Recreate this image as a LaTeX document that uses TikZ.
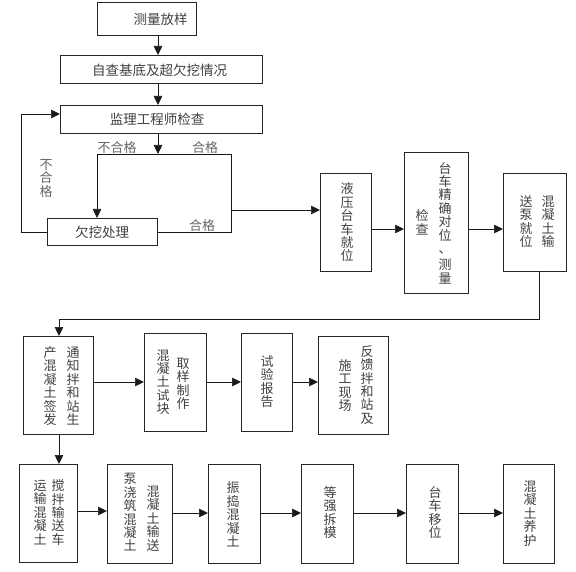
\documentclass[tikz,border=0pt]{standalone}
\usepackage{fontspec}
\setmainfont{Noto Sans CJK SC}
\usetikzlibrary{arrows.meta}
\tikzset{
 box/.style={draw=black!85, line width=0.7pt, inner sep=0pt, outer sep=0pt},
 txt/.style={text=black!75, font=\fontsize{13}{13.4}\selectfont, inner sep=0pt, align=center},
 htxt/.style={text=black!75, font=\fontsize{13.5}{14}\selectfont, inner sep=0pt, align=center},
 lbl/.style={text=black!60, font=\fontsize{13}{13.4}\selectfont, inner sep=0pt, align=center},
 arr/.style={draw=black!90, line width=0.7pt, -{Triangle[length=9pt,width=8.5pt]}},
 ln/.style={draw=black!90, line width=0.7pt},
}
\begin{document}
\begin{tikzpicture}[x=1pt,y=-1pt]
\useasboundingbox (0,0) rectangle (576,572);
% boxes
\node[box, minimum width=99pt, minimum height=33pt] (A) at (146.5,18.5) {};
\node[box, minimum width=202pt, minimum height=28pt] (B) at (161,69) {};
\node[box, minimum width=202pt, minimum height=28pt] (C) at (161,119) {};
\node[box, minimum width=110pt, minimum height=27pt] (D) at (102,231.5) {};
\node[box, minimum width=51pt, minimum height=98pt] (E) at (345.5,222) {};
\node[box, minimum width=64pt, minimum height=141pt] (F) at (436,222.5) {};
\node[box, minimum width=63pt, minimum height=98pt] (G) at (534.5,222) {};
\node[box, minimum width=70pt, minimum height=98pt] (H) at (58,385) {};
\node[box, minimum width=62pt, minimum height=98pt] (I) at (175,382) {};
\node[box, minimum width=51pt, minimum height=98pt] (J) at (266.5,382) {};
\node[box, minimum width=70pt, minimum height=98pt] (K) at (353,385) {};
\node[box, minimum width=58pt, minimum height=98pt] (L) at (48,513) {};
\node[box, minimum width=65pt, minimum height=99pt] (M) at (139.5,513.5) {};
\node[box, minimum width=52pt, minimum height=99pt] (N) at (234,513.5) {};
\node[box, minimum width=52pt, minimum height=99pt] (O) at (327,513.5) {};
\node[box, minimum width=52pt, minimum height=99pt] (P) at (432,513.5) {};
\node[box, minimum width=51pt, minimum height=99pt] (Q) at (528.5,513.5) {};
% texts
\node[htxt] (tA) at (160.5,19) {测量放样};
\node[htxt] (tB) at (159.5,70) {自查基底及超欠挖情况};
\node[htxt] (tC) at (157,119.5) {监理工程师检查};
\node[htxt] (tD) at (102,232) {欠挖处理};
\node[txt] (tE) at (347,222.5) {液\\压\\台\\车\\就\\位};
\node[txt] (tF1) at (445,223) {台\\车\\精\\确\\对\\位\\、\\[3pt]测\\量};
\node[txt] (tF2) at (422,222.5) {检\\查};
\node[txt] (tG1) at (548,221.5) {混\\凝\\土\\输};
\node[txt] (tG2) at (526,221.5) {送\\泵\\就\\位};
\node[txt] (tH1) at (73,386) {通\\知\\拌\\和\\站\\生};
\node[txt] (tH2) at (50,386) {产\\混\\凝\\土\\签\\发};
\node[txt] (tI1) at (163,382) {混\\凝\\土\\试\\块};
\node[txt] (tI2) at (183,384) {取\\样\\制\\作};
\node[txt] (tJ) at (267,381.5) {试\\验\\报\\告};
\node[txt] (tK1) at (367,385) {反\\馈\\拌\\和\\站\\及};
\node[txt] (tK2) at (345,385.5) {施\\工\\现\\场};
\node[txt] (tL1) at (58,512.5) {搅\\拌\\输\\送\\车};
\node[txt] (tL2) at (40,512.5) {运\\输\\混\\凝\\土};
\node[txt] (tM1) at (130,512.5) {泵\\浇\\筑\\混\\凝\\土};
\node[txt] (tM2) at (153,518.5) {混\\凝\\土\\输\\送};
\node[txt] (tN) at (233,514.5) {振\\捣\\混\\凝\\土};
\node[txt] (tO) at (330,512.5) {等\\强\\拆\\模};
\node[txt] (tP) at (435,512.5) {台\\车\\移\\位};
\node[txt] (tQ) at (530,513.5) {混\\凝\\土\\养\\护};
% labels
\node[lbl] (l1) at (117,148) {不合格};
\node[lbl] (l2) at (205,148) {合格};
\node[lbl] (l3) at (202,226) {合格};
\node[lbl] (l4) at (46,178.5) {不\\合\\格};
% connectors top part
\coordinate (cx) at (158,0);
\draw[arr] (A.south -| cx) -- (B.north -| cx);
\draw[arr] (B.south -| cx) -- (C.north -| cx);
\coordinate (j) at (158,154);
\draw[arr] (C.south -| cx) -- (j);
\coordinate (jl) at (97,154);
\coordinate (jr) at (231,154);
\draw[ln] (jl) -- (jr);
\draw[arr] (jl) -- (jl |- D.north);
\coordinate (jb) at (231,232);
\draw[ln] (jr) -- (jb) -- (D.east |- jb);
\coordinate (jm) at (231,210);
\draw[arr] (jm) -- (E.west |- jm);
\coordinate (lp) at (21,232.5);
\coordinate (lt) at (21,114);
\draw[arr] (D.west |- lp) -- (lp) -- (lt) -- (C.west |- lt);
% row 1
\coordinate (r1) at (0,229);
\draw[arr] (E.east |- r1) -- (F.west |- r1);
\draw[arr] (F.east |- r1) -- (G.west |- r1);
\coordinate (g1) at (539,319);
\coordinate (g2) at (59,319);
\draw[arr] (G.south -| g1) -- (g1) -- (g2) -- (g2 |- H.north);
% row 2
\coordinate (r2) at (0,382);
\draw[arr] (H.east |- r2) -- (I.west |- r2);
\draw[arr] (I.east |- r2) -- (J.west |- r2);
\draw[arr] (J.east |- r2) -- (K.west |- r2);
\coordinate (h1) at (59,0);
\draw[arr] (H.south -| h1) -- (L.north -| h1);
% row 3
\coordinate (r3a) at (0,511);
\coordinate (r3) at (0,513);
\draw[arr] (L.east |- r3a) -- (M.west |- r3a);
\draw[arr] (M.east |- r3) -- (N.west |- r3);
\draw[arr] (N.east |- r3) -- (O.west |- r3);
\draw[arr] (O.east |- r3) -- (P.west |- r3);
\draw[arr] (P.east |- r3) -- (Q.west |- r3);
\end{tikzpicture}
\end{document}
